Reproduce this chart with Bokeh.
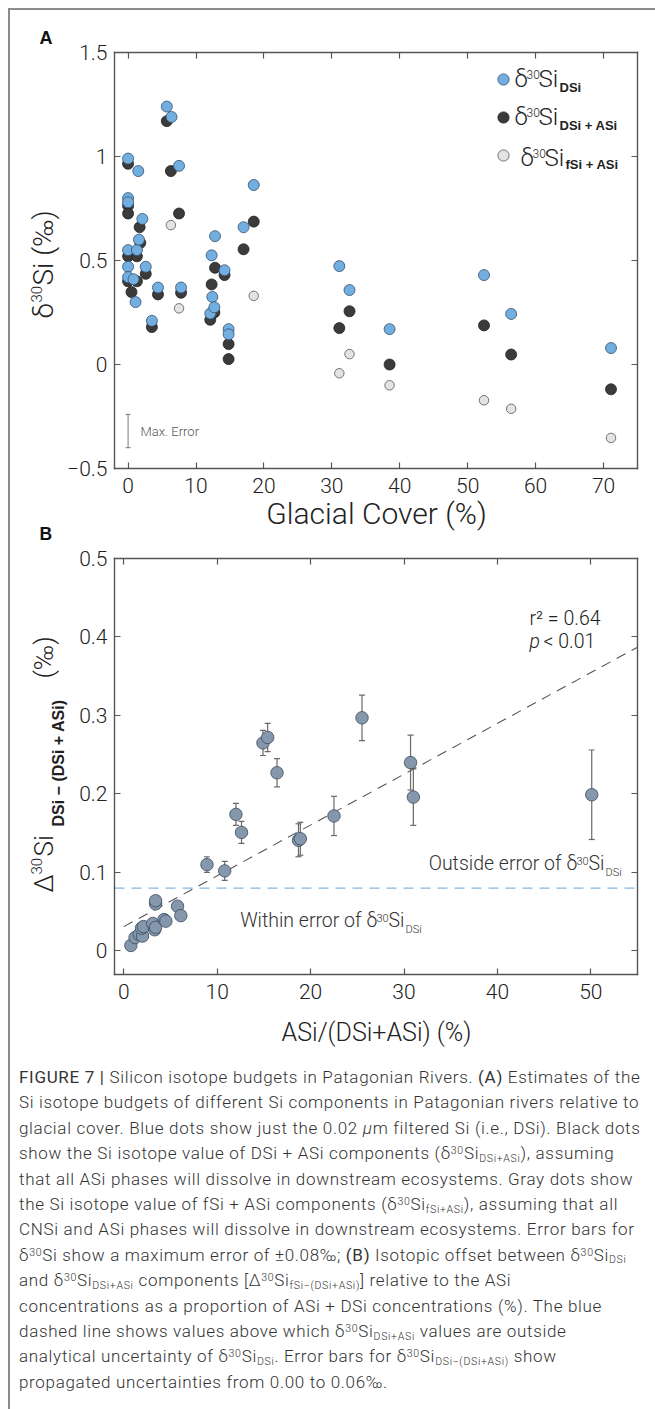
import math
from bokeh.plotting import figure
from bokeh.models import (Range1d, FixedTicker, LinearAxis, Label, Legend, LegendItem,
                          CustomJSTickFormatter, Div, ColumnDataSource)
from bokeh.layouts import column
from bokeh.embed import file_html
from bokeh.resources import INLINE

# ---------------- Panel A data (glacial cover %, delta30Si permil) ----------------
dsi_x = [0, 0, 0, 0, 0, 0, 0.8, 1.1, 1.3, 1.5, 1.6, 2.1, 2.6, 3.5, 4.4, 5.7, 6.4, 7.5, 7.8,
         12.1, 12.3, 12.4, 12.7, 12.8, 14.2, 14.8, 14.8, 17.0, 18.5, 31.1, 32.6, 38.5, 52.4, 56.4, 71.1]
dsi_y = [0.99, 0.80, 0.78, 0.55, 0.47, 0.42, 0.41, 0.30, 0.55, 0.93, 0.60, 0.70, 0.47, 0.21, 0.37,
         1.24, 1.19, 0.955, 0.37, 0.245, 0.525, 0.325, 0.275, 0.617, 0.453, 0.17, 0.145, 0.66, 0.863,
         0.473, 0.358, 0.17, 0.43, 0.243, 0.079]

dsiasi_x = [0, 0, 0, 0, 0, 0.5, 1.3, 1.3, 1.7, 1.8, 2.6, 3.5, 4.4, 5.7, 6.3, 7.5, 7.8,
            12.1, 12.3, 12.7, 12.8, 14.2, 14.8, 14.8, 17.0, 18.5, 31.1, 32.6, 38.5, 52.4, 56.4, 71.1]
dsiasi_y = [0.965, 0.763, 0.726, 0.52, 0.40, 0.348, 0.52, 0.40, 0.66, 0.585, 0.436, 0.18, 0.337,
            1.17, 0.93, 0.726, 0.345, 0.215, 0.385, 0.25, 0.465, 0.43, 0.098, 0.026, 0.554, 0.687,
            0.175, 0.256, 0.0, 0.188, 0.048, -0.119]

fsiasi_x = [6.3, 7.5, 18.5, 31.1, 32.6, 38.5, 52.4, 56.4, 71.1]
fsiasi_y = [0.67, 0.27, 0.33, -0.042, 0.05, -0.10, -0.172, -0.213, -0.353]

max_err_x = [0]
max_err_center = [-0.32]
max_err = 0.08

# ---------------- Panel B data (ASi fraction %, Delta30Si permil, error) ----------------
asi_frac = [0.75, 1.2, 1.65, 2.0, 1.9, 2.1, 3.1, 3.3, 3.4, 3.4, 3.4, 4.3, 4.5, 5.75, 6.1,
            8.9, 10.8, 12.0, 12.6, 14.9, 15.4, 16.4, 18.7, 18.9, 22.5, 25.5, 30.7, 31.0, 50.1]
delta_b = [0.007, 0.017, 0.021, 0.019, 0.029, 0.031, 0.035, 0.027, 0.030, 0.060, 0.064, 0.040,
           0.038, 0.057, 0.045, 0.110, 0.102, 0.174, 0.151, 0.265, 0.272, 0.227, 0.141, 0.143,
           0.172, 0.297, 0.240, 0.196, 0.199]
delta_err = [0.004, 0.004, 0.004, 0.004, 0.004, 0.004, 0.004, 0.004, 0.004, 0.004, 0.004, 0.004,
             0.004, 0.004, 0.004, 0.010, 0.012, 0.014, 0.014, 0.016, 0.018, 0.018, 0.021, 0.021,
             0.025, 0.029, 0.035, 0.036, 0.057]
fit_x = [0, 55]
fit_y = [0.031, 0.387]
threshold_x = [-1, 55]
threshold_y = [0.08, 0.08]

# ---------------- axes extents and ticks ----------------
a_xlim = (-2, 75)
a_ylim = (-0.5, 1.5)
b_xlim = (-1, 55)
b_ylim = (-0.03, 0.5)
a_xticks = [0, 10, 20, 30, 40, 50, 60, 70]
a_xlabels = ["0", "10", "20", "30", "40", "50", "60", "70"]
a_yticks = [-0.5, 0, 0.5, 1, 1.5]
a_ylabels = ["\u22120.5", "0", "0.5", "1", "1.5"]
b_xticks = [0, 10, 20, 30, 40, 50]
b_xlabels = ["0", "10", "20", "30", "40", "50"]
b_yticks = [0, 0.1, 0.2, 0.3, 0.4, 0.5]
b_ylabels = ["0", "0.1", "0.2", "0.3", "0.4", "0.5"]

FONT = "Roboto Light, Roboto"
BOLD = "Liberation Sans"
AXC = "#555555"
TXT = "#222222"
FW = 637                   # figure width
BOX_L, BOX_R = 104, 627    # axes box inside each figure (local px)
HA, HB = 535, 505          # figure heights (panel A, panel B)

FMT = """
const i = t.findIndex(v => Math.abs(v - tick) < 1e-9);
return i >= 0 ? l[i] : "";
"""


def make_panel(xlim, ylim, fh, box_top, xt, xl, yt, yl, page_top):
    box_bottom = box_top + 416
    sx = (xlim[1] - xlim[0]) / (BOX_R - BOX_L)
    sy = (ylim[1] - ylim[0]) / (box_bottom - box_top)
    xs = xlim[0] - BOX_L * sx
    xe = xlim[1] + (FW - BOX_R) * sx
    ye = ylim[1] + box_top * sy
    ys = ylim[0] - (fh - box_bottom) * sy
    p = figure(output_backend="svg", toolbar_location=None, width=FW, height=fh,
               x_range=Range1d(xs, xe), y_range=Range1d(ys, ye),
               x_axis_type=None, y_axis_type=None, min_border=0,
               background_fill_color="white", border_fill_color="white")
    p.outline_line_color = None

    def axis(loc, bounds, ticks, labels, show):
        fmt = (CustomJSTickFormatter(args=dict(t=ticks, l=labels), code=FMT) if show
               else CustomJSTickFormatter(code="return '';"))
        ax = LinearAxis(fixed_location=loc, bounds=bounds, ticker=FixedTicker(ticks=ticks),
                        formatter=fmt)
        ax.axis_line_color = AXC
        ax.axis_line_width = 1.4
        ax.axis_line_cap = "square"
        ax.major_tick_line_color = AXC
        ax.major_tick_line_width = 1.2
        ax.major_tick_in = 6
        ax.major_tick_out = 0
        ax.minor_tick_line_color = None
        ax.major_label_text_font = FONT
        ax.major_label_text_font_size = "21px"
        ax.major_label_text_color = TXT if show else None
        return ax

    bottom = axis(ylim[0], xlim, xt, xl, True)
    bottom.major_label_standoff = 9
    left = axis(xlim[0], ylim, yt, yl, True)
    left.major_label_standoff = 7
    top = axis(ylim[1], xlim, xt, xl, False)
    right = axis(xlim[1], ylim, yt, yl, False)
    p.add_layout(bottom, "below")
    p.add_layout(left, "left")
    p.add_layout(top, "above")
    p.add_layout(right, "right")

    def conv(px, py):
        return (xs + (px - 10) * sx, ye - (py - page_top) * sy)

    return p, conv


def text_adder(p, conv):
    def t(px, py, text, size, font=FONT, style="normal", align="left", angle=0.0, color=TXT):
        x, y = conv(px, py)
        p.add_layout(Label(x=x, y=y, text=text, text_font=font, text_font_size=f"{size}px",
                           text_font_style=style, text_align=align, text_baseline="middle",
                           angle=angle, text_color=color))
    return t


half = math.pi / 2

# ---------------- Panel A ----------------
pa, conv_a = make_panel(a_xlim, a_ylim, HA, 42, a_xticks, a_xlabels, a_yticks, a_ylabels, 10)

r_gray = pa.scatter(fsiasi_x, fsiasi_y, size=9.5, fill_color="#e1e4e1", line_color="#555555",
                    line_width=0.8)
r_black = pa.scatter(dsiasi_x, dsiasi_y, size=11, fill_color="#3b3b3b", line_color="#222222",
                     line_width=0.8)
r_blue = pa.scatter(dsi_x, dsi_y, size=11, fill_color="#72aee0", line_color="#33506e",
                    line_width=0.8)

me_lo = [c - max_err for c in max_err_center]
me_hi = [c + max_err for c in max_err_center]
pa.segment(x0=max_err_x, y0=me_lo, x1=max_err_x, y1=me_hi, line_color="#777777", line_width=1)
pa.scatter(max_err_x, me_lo, marker="dash", size=5, line_color="#777777", line_width=1)
pa.scatter(max_err_x, me_hi, marker="dash", size=5, line_color="#777777", line_width=1)

# legend box: glyph column left at local x 479, bottom 159 px from the top of the figure
legend = Legend(items=[LegendItem(label=" ", renderers=[r_blue]),
                       LegendItem(label=" ", renderers=[r_black]),
                       LegendItem(label=" ", renderers=[r_gray])],
                location=(479, HA - 159), glyph_width=28, glyph_height=28, spacing=10,
                padding=0, margin=0, label_height=28, label_width=1, label_standoff=0,
                border_line_color=None, background_fill_alpha=0, label_text_font_size="1px",
                label_text_color=None)
pa.add_layout(legend)

ta = text_adder(pa, conv_a)
ta(39, 37, "A", 18, font=BOLD, style="bold", color="#111111")
ta(43, 318, "\u03b4", 28, angle=half)
ta(36, 302, "30", 15, angle=half)
ta(43, 285, "Si (\u2030)", 28, angle=half)
ta(376, 513, "Glacial Cover (%)", 30, align="center")
ta(140, 431, "Max. Error", 13, color="#555555")
for (lx, cy, dsub, sub) in [(514, 78, 9, "DSi"), (514, 116, 9, "DSi + ASi"),
                            (520, 157, 7, "fSi + ASi")]:
    ta(lx, cy, "\u03b4", 24)
    ta(lx + 12, cy - 4, "30", 12)
    ta(lx + 24, cy, "Si", 24)
    ta(lx + 45, cy + dsub, sub, 13, font=BOLD, style="bold")
ta(39, 533.5, "B", 17.5, font=BOLD, style="bold", color="#111111")

# ---------------- Panel B ----------------
pb_top = 10 + HA
pb, conv_b = make_panel(b_xlim, b_ylim, HB, 558 - pb_top, b_xticks, b_xlabels, b_yticks,
                        b_ylabels, pb_top)

pb.line(threshold_x, threshold_y, line_color="#86b6e2", line_width=1.3, line_dash="10 7")
pb.line(fit_x, fit_y, line_color="#555555", line_width=1.1, line_dash="10 7")

lo = [v - e for v, e in zip(delta_b, delta_err)]
hi = [v + e for v, e in zip(delta_b, delta_err)]
src = ColumnDataSource(dict(x=asi_frac, y=delta_b, lo=lo, hi=hi))
pb.segment(x0="x", y0="lo", x1="x", y1="hi", source=src, line_color="#6a6a6a", line_width=1.2)
pb.scatter(x="x", y="lo", source=src, marker="dash", size=6, line_color="#6a6a6a", line_width=1.2)
pb.scatter(x="x", y="hi", source=src, marker="dash", size=6, line_color="#6a6a6a", line_width=1.2)
pb.scatter(x="x", y="y", source=src, size=12.5, fill_color="#8497ac", line_color="#3b4a5b",
           line_width=0.8)

tb = text_adder(pb, conv_b)
tb(43, 892, "\u0394", 26, angle=half)
tb(36, 874, "30", 15, angle=half)
tb(43, 856, "Si", 26, angle=half)
tb(58, 826, "DSi \u2212 (DSi + ASi)", 16, font=BOLD, style="bold", angle=half)
tb(43, 678, "(\u2030)", 26, angle=half)
tb(376, 1032, "ASi/(DSi+ASi) (%)", 25, align="center")

tb(529, 618, "r\u00b2 = 0.64", 19.5)
tb(529, 641, "p", 19.5, style="italic")
tb(543, 641, "< 0.01", 19.5)

tb(561, 863, "Outside error of", 19.5, align="right", color="#333333")
tb(566, 863, "\u03b4", 19.5, color="#333333")
tb(576, 860, "30", 11, color="#333333")
tb(588, 863, "Si", 19.5, color="#333333")
tb(605, 872, "DSi", 11, color="#333333")

tb(361, 920, "Within error of", 19.5, align="right", color="#333333")
tb(366, 920, "\u03b4", 19.5, color="#333333")
tb(376, 917, "30", 11, color="#333333")
tb(388, 920, "Si", 19.5, color="#333333")
tb(405, 929, "DSi", 11, color="#333333")

# ---------------- Caption ----------------


def sup(s):
    return f'<span style="font-size:0.62em;line-height:0;position:relative;top:-0.5em">{s}</span>'


def sub(s):
    return f'<span style="font-size:0.62em;line-height:0;position:relative;top:0.25em">{s}</span>'


caption_lines = [
    '<b>FIGURE 7 |</b> Silicon isotope budgets in Patagonian Rivers. <b>(A)</b> Estimates of the',
    'Si isotope budgets of different Si components in Patagonian rivers relative to',
    'glacial cover. Blue dots show just the 0.02 <i>\u03bc</i>m filtered Si (i.e., DSi). Black dots',
    f'show the Si isotope value of DSi + ASi components (\u03b4{sup("30")}Si{sub("DSi+ASi")}), assuming',
    'that all ASi phases will dissolve in downstream ecosystems. Gray dots show',
    f'the Si isotope value of fSi + ASi components (\u03b4{sup("30")}Si{sub("fSi+ASi")}), assuming that all',
    'CNSi and ASi phases will dissolve in downstream ecosystems. Error bars for',
    f'\u03b4{sup("30")}Si show a maximum error of \u00b10.08\u2030; <b>(B)</b> Isotopic offset between \u03b4{sup("30")}Si{sub("DSi")}',
    f'and \u03b4{sup("30")}Si{sub("DSi+ASi")} components [\u0394{sup("30")}Si{sub("fSi\u2212(DSi+ASi)")}] relative to the ASi',
    'concentrations as a proportion of ASi + DSi concentrations (%). The blue',
    f'dashed line shows values above which \u03b4{sup("30")}Si{sub("DSi+ASi")} values are outside',
    f'analytical uncertainty of \u03b4{sup("30")}Si{sub("DSi")}. Error bars for \u03b4{sup("30")}Si{sub("DSi\u2212(DSi+ASi)")} show',
    'propagated uncertainties from 0.00 to 0.06\u2030.',
]
caption_html = ('<div style="font-family:Roboto,sans-serif;font-weight:300;font-size:17px;'
                'letter-spacing:0.68px;line-height:25.4px;color:#333;padding:10px 0 0 4px;'
                'white-space:nowrap;overflow-x:hidden;width:633px;">'
                + "<br>".join(caption_lines) + '</div>')
cap = Div(text=caption_html, width=637, height=350)

layout = column(pa, pb, cap, spacing=0,
                styles={"margin-left": "8px", "margin-top": "8px",
                        "border-left": "2px solid #8c8c8c", "border-top": "2px solid #8c8c8c"})

open("out.html", "w").write(file_html(layout, INLINE))
